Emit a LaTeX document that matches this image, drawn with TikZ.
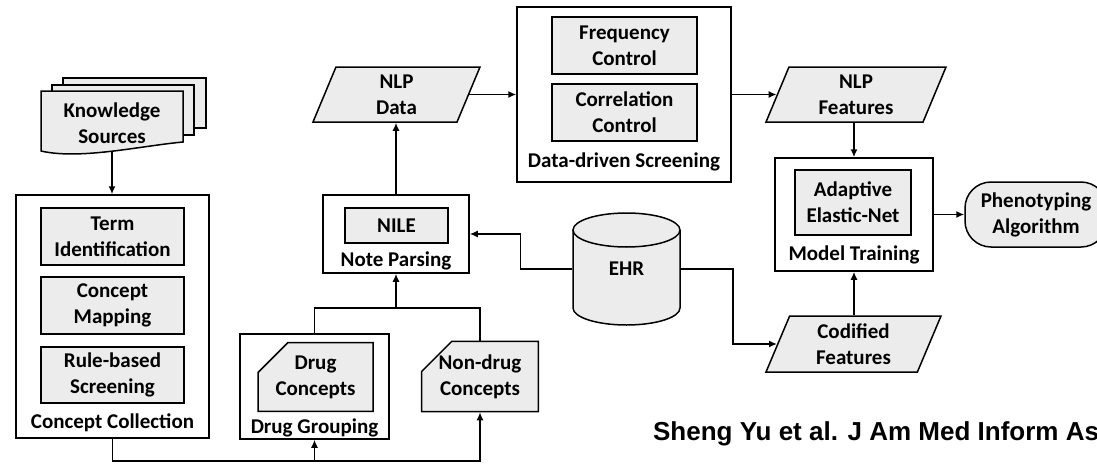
\documentclass[tikz,border=0pt]{standalone}
\usepackage{fontspec}
\setmainfont{Carlito}
\newfontfamily\citefont{Liberation Sans}
\usetikzlibrary{arrows.meta,positioning,shapes.geometric,shapes.misc}
\definecolor{cFill}{RGB}{236,236,236}

\begin{document}
\begin{tikzpicture}[x=1pt, y=-1pt, line width=1.5pt,
  font=\bfseries\fontsize{21}{26}\selectfont,
  outer/.style={draw, fill=white, inner sep=0pt},
  inner/.style={draw, fill=cFill, align=center, inner sep=0pt},
  data/.style={draw, fill=cFill, align=center, inner sep=0pt, trapezium,
    trapezium left angle=60, trapezium right angle=120, trapezium stretches body},
  card/.style={draw, fill=cFill, align=center, inner sep=0pt, chamfered rectangle,
    chamfered rectangle corners=north west, chamfered rectangle xsep=17pt,
    chamfered rectangle ysep=13pt},
  endbox/.style={draw, fill=cFill, align=center, inner sep=0pt, rounded corners=26pt},
  lbl/.style={anchor=base},
  arr/.style={-{Latex[length=8pt,width=7pt]}}]
\useasboundingbox (0,0) rectangle (1097,463);

% knowledge sources (stacked documents)
\draw[fill=cFill] (63,78) rectangle (206,128);
\draw[fill=cFill] (52,85) rectangle (194,135);
\draw[fill=cFill] (41,91) -- (183,91) -- (183,142) .. controls (140,146) and (80,160) .. (41,151) -- cycle;
\node[align=center] (ks) at (112,123) {Knowledge\\Sources};
\coordinate (ksb) at (112,151);

% concept collection
\node[outer, minimum width=193, minimum height=243] (cc) at (112.5,316.5) {};
\node[inner, minimum width=143, minimum height=57] (term) at (112.5,236.5) {Term\\Identification};
\node[inner, minimum width=143, minimum height=57] (map) at (112.5,305.5) {Concept\\Mapping};
\node[inner, minimum width=143, minimum height=56] (rule) at (112.5,375) {Rule-based\\Screening};
\node[lbl] (cclbl) at (112.5,428) {Concept Collection};

% drug grouping
\node[outer, minimum width=149, minimum height=105] (dg) at (314.5,386.5) {};
\node[card, minimum width=115, minimum height=68] (drug) at (315.5,377) {Drug\\Concepts};
\node[lbl] (dglbl) at (314.5,433) {Drug Grouping};
\node[card, minimum width=114, minimum height=67] (nondrug) at (480,376.5) {Non-drug\\Concepts};

% note parsing
\node[outer, minimum width=146, minimum height=78] (np) at (396,234) {};
\node[inner, minimum width=103, minimum height=35] (nile) at (396.5,225.5) {NILE};
\node[lbl] (nplbl) at (396,266) {Note Parsing};

\node[data, minimum width=167, minimum height=55] (nlpdata) at (396.5,94.5) {NLP\\Data};

% data-driven screening
\node[outer, minimum width=214, minimum height=175] (dds) at (624,94.5) {};
\node[inner, minimum width=145, minimum height=57] (freq) at (624.5,45.5) {Frequency\\Control};
\node[inner, minimum width=145, minimum height=57] (corr) at (624.5,112.5) {Correlation\\Control};
\node[lbl] (ddslbl) at (624,167) {Data-driven Screening};

\node[data, minimum width=180, minimum height=55] (nlpfeat) at (856,94.5) {NLP\\Features};

% model training
\node[outer, minimum width=158, minimum height=113] (mt) at (854,214.5) {};
\node[inner, minimum width=116, minimum height=65] (aen) at (853,202.5) {Adaptive\\Elastic-Net};
\node[lbl] (mtlbl) at (854,260) {Model Training};

\node[endbox, minimum width=142, minimum height=65] (pheno) at (1036,214.5) {Phenotyping\\Algorithm};

\node[data, minimum width=175, minimum height=56] (codfeat) at (853.5,344) {Codified\\Features};

% EHR database
\node[minimum width=107, minimum height=112] (ehr) at (626.5,269) {};
\fill[cFill] (573,230) -- (573,308) arc[start angle=180, end angle=360, x radius=53.5pt, y radius=17pt] -- (680,230) -- cycle;
\draw (573,230) -- (573,308) arc[start angle=180, end angle=360, x radius=53.5pt, y radius=17pt] -- (680,230);
\draw[fill=cFill] (626.5,230) ellipse[x radius=53.5pt, y radius=17pt];
\node (ehrlbl) at (ehr) {EHR};

% connectors
\coordinate (bus) at (0,461);
\coordinate (jn) at (396,308);
\draw[arr] (ksb) -- (ksb |- cc.north);
\draw[arr] (cc.south) -- (cc.south |- bus) -| (nondrug.south);
\draw[arr] (dg.south |- bus) -- (dg.south);
\draw (dg.north) |- (jn) -| (nondrug.north);
\draw[arr] (jn) -- (np.south);
\draw[arr] (np.north) -- (np.north |- nlpdata.bottom side);
\draw[arr] (nlpdata.right side) -- (dds.west);
\draw[arr] (dds.east) -- (nlpfeat.left side);
\draw[arr] (mt.north |- nlpfeat.bottom side) -- (mt.north);
\draw[arr] (mt.east) -- (pheno.west);
\draw[arr] (ehr.west) -- ++(-52,0) |- (np.east);
\draw[arr] (ehr.east) -- ++(52,0) |- (codfeat.left side);
\draw[arr] (mt.south |- codfeat.top side) -- (mt.south);

\node[anchor=base west, font=\citefont\bfseries\fontsize{26}{30}\selectfont] (cite) at (649,440) {Sheng Yu et al. J Am Med Inform As};
\end{tikzpicture}
\end{document}
